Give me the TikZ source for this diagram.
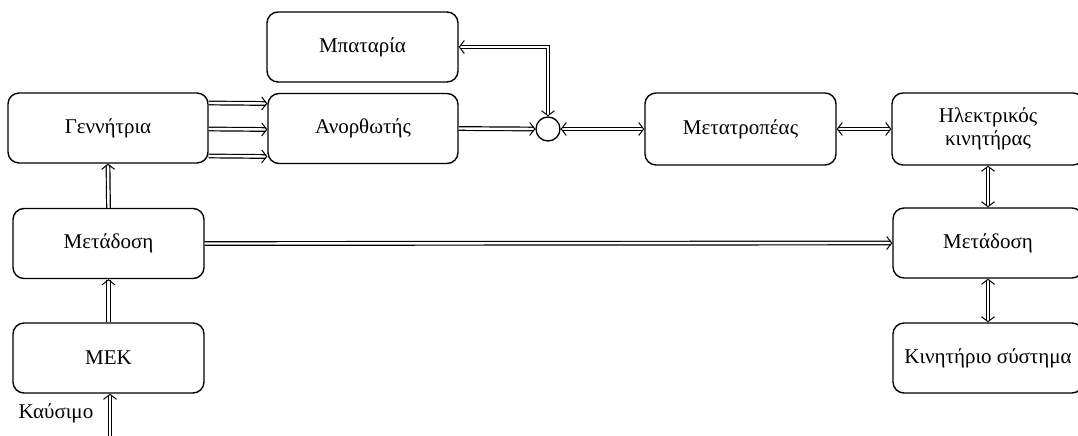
\documentclass[tikz,border=0pt]{standalone}
\usepackage{fontspec}
\setmainfont{Liberation Serif}
\usetikzlibrary{arrows.meta}
\begin{document}
\begin{tikzpicture}[x=1pt,y=-1pt,
  block/.style={draw, line width=1.4pt, rounded corners=11pt, minimum height=70pt,
    inner sep=0pt, align=center, font=\fontsize{21}{23}\selectfont},
  tip/.style={Straight Barb[length=5pt,width=13pt,line width=1pt]},
  flow/.style={draw, line width=1.2pt, double, double distance=2.4pt, -{Straight Barb[length=5pt,width=13pt,line width=1pt]}},
  flowboth/.style={flow, {Straight Barb[length=5pt,width=13pt,line width=1pt]}-{Straight Barb[length=5pt,width=13pt,line width=1pt]}}
]
\useasboundingbox (0,0) rectangle (1078,436);
% upper electrical chain
\node[block, minimum width=200pt] (gen) at (108,128) {Γεννήτρια};
\node[block, minimum width=190pt] (rect) at (363,128.5) {Ανορθωτής};
\node[block, minimum width=191pt] (bat) at (362.5,47) {Μπαταρία};
\node[draw, circle, line width=1.3pt, minimum size=24pt, inner sep=0pt] (sum) at (548,129) {};
\node[block, minimum width=191pt, minimum height=72pt] (conv) at (740.5,129) {Μετατροπέας};
\node[block, minimum width=192pt, minimum height=72pt] (motor) at (988,129) {Ηλεκτρικός\\κινητήρας};
% mechanical chain
\node[block, minimum width=191pt] (trL) at (108.5,243.5) {Μετάδοση};
\node[block, minimum width=191pt] (ice) at (108.5,358) {ΜΕΚ};
\node[block, minimum width=190pt] (trR) at (988,243) {Μετάδοση};
\node[block, minimum width=190pt] (drive) at (988,358) {Κινητήριο σύστημα};
\node[font=\fontsize{21}{23}\selectfont, inner sep=0pt] (fuel) at (56,413) {Καύσιμο};
\coordinate (fuelin) at (110,437);
% connectors
\foreach \dy in {-25,1,28}
  \draw[flow] ([yshift=-\dy pt]gen.east) -- ([yshift=-\dy pt]rect.west);
\draw[flow] (rect.east) -- (sum.west);
\draw[flowboth] (sum.north) |- (bat.east);
\draw[flowboth] (sum.east) -- (conv.west);
\draw[flowboth] (conv.east) -- (motor.west);
\draw[flowboth] (motor.south) -- (trR.north);
\draw[flowboth] (trR.south) -- (drive.north);
\draw[flow] (fuelin) -- (fuelin |- ice.south);
\draw[flow] (ice.north) -- (trL.south);
\draw[flow] (trL.north) -- (gen.south);
\draw[flow] (trL.east) -- (trR.west);
\end{tikzpicture}
\end{document}
